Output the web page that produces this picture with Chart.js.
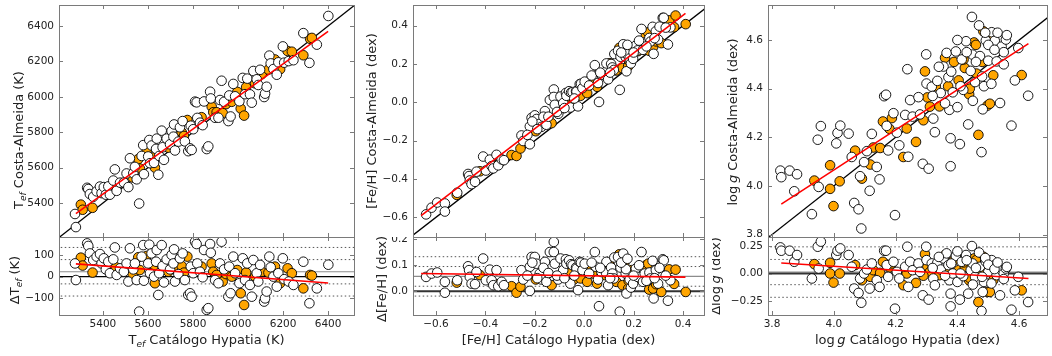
<!DOCTYPE html>
<html>
<head>
<meta charset="utf-8">
<script src="https://cdn.jsdelivr.net/npm/chart.js@4.4.1/dist/chart.umd.min.js"></script>
<style>
  body { margin: 0; background: #fff; width: 1052px; height: 356px; position: relative; overflow: hidden; }
  canvas { position: absolute; }
</style>
</head>
<body>
<script>
// ---- Teff: [Hypatia, Costa-Almeida - Hypatia] ----
var tefWhite = [[5276,62],[5280,-16],[5330,156],[5335,144],[5342,109],[5357,78],[5372,94],[5387,106],[5394,62],[5404,86],[5413,34],[5424,70],[5431,16],[5446,81],[5453,137],[5461,8],[5476,39],[5493,23],[5505,62],[5513,-23],[5520,133],[5535,34],[5542,62],[5550,-16],[5561,-164],[5572,94],[5579,148],[5582,-19],[5601,62],[5606,150],[5609,16],[5616,109],[5627,0],[5636,70],[5639,125],[5646,-86],[5650,16],[5661,148],[5665,50],[5671,-27],[5683,81],[5698,34],[5705,102],[5713,62],[5716,128],[5720,-23],[5735,12],[5742,86],[5754,109],[5764,-16],[5779,-86],[5787,-78],[5794,-94],[5790,47],[5801,16],[5809,164],[5816,153],[5819,62],[5831,23],[5843,-3],[5849,125],[5861,-156],[5868,-148],[5876,153],[5879,112],[5898,-16],[5913,-31],[5920,62],[5927,164],[5938,34],[5957,-94],[5961,47],[5967,-78],[5979,94],[5987,16],[6006,-31],[6021,86],[6031,-16],[6041,62],[6053,-39],[6061,-94],[6068,78],[6083,16],[6090,-23],[6098,55],[6116,-117],[6120,-102],[6127,-70],[6139,94],[6145,44],[6157,0],[6172,-47],[6179,16],[6199,86],[6205,-12],[6225,-23],[6246,-39],[6290,70],[6317,-125],[6350,-55],[6401,56]];
var tefOrange = [[5302,89],[5310,52],[5354,19],[5416,47],[5458,44],[5532,12],[5557,91],[5564,31],[5594,97],[5624,34],[5631,-31],[5690,23],[5727,31],[5750,50],[5760,19],[5775,94],[5838,47],[5883,62],[5890,23],[5905,8],[5932,-23],[5947,12],[5972,0],[5997,31],[6012,-78],[6027,-133],[6036,19],[6076,0],[6105,23],[6135,19],[6164,47],[6187,-31],[6220,39],[6239,16],[6290,-55],[6320,8],[6328,5]];
var tefFitX = [5280, 6400];
var tefFitD = [60, -30];
var tefMean = 23;
var tefLevels = [-91, -34, 80, 137];

// ---- [Fe/H] ----
var fehWhite = [[-0.64,0.055],[-0.618,0.068],[-0.595,0.072],[-0.564,0.036],[-0.564,-0.006],[-0.514,0.042],[-0.47,0.096],[-0.466,0.081],[-0.463,0.055],[-0.456,0.029],[-0.442,0.027],[-0.436,0.074],[-0.409,0.126],[-0.398,0.042],[-0.382,0.083],[-0.375,0.042],[-0.368,0.023],[-0.355,0.081],[-0.348,0.019],[-0.334,0.036],[-0.325,0.023],[-0.254,0.081],[-0.247,0.045],[-0.22,0.001],[-0.22,0.094],[-0.213,0.132],[-0.2,0.132],[-0.193,0.106],[-0.18,0.068],[-0.173,0.045],[-0.159,0.113],[-0.153,0.036],[-0.139,0.151],[-0.123,0.19],[-0.123,0.151],[-0.119,0.106],[-0.105,0.045],[-0.096,0.126],[-0.085,0.081],[-0.074,0.123],[-0.072,0.106],[-0.061,0.119],[-0.056,0.029],[-0.053,0.104],[-0.047,0.1],[-0.033,0.091],[-0.031,0.087],[-0.025,0.004],[-0.018,0.113],[-0.013,0.11],[-0.007,0.081],[0.002,0.106],[0.02,0.068],[0.043,0.151],[0.047,0.094],[0.056,0.045],[0.06,-0.058],[0.07,0.074],[0.088,0.072],[0.09,0.113],[0.097,0.023],[0.109,0.091],[0.114,0.068],[0.12,0.049],[0.122,0.13],[0.137,0.132],[0.144,-0.079],[0.147,0.091],[0.158,0.145],[0.168,0.068],[0.169,0.085],[0.171,-0.009],[0.184,0.045],[0.189,0.014],[0.198,0.029],[0.209,0.087],[0.216,0.055],[0.232,0.151],[0.238,0.036],[0.245,0.068],[0.264,0.072],[0.268,0.049],[0.277,0.117],[0.281,-0.028],[0.29,0.081],[0.299,0.029],[0.318,0.123],[0.322,0.119],[0.339,-0.037],[0.349,0.042],[-0.23,0.06],[-0.21,0.11],[-0.19,0.05],[-0.165,0.09],[-0.145,0.07],[-0.11,0.06],[-0.08,0.05],[-0.04,0.06],[0.03,0.11],[0.065,0.09],[0.105,0.05],[0.15,0.11],[0.175,0.125],[0.2,0.06],[0.222,0.1],[0.252,0.04],[0.285,0.05],[0.305,0.09],[0.33,0.06]];
var fehOrange = [[-0.516,0.033],[-0.422,0.062],[-0.355,0.027],[-0.294,0.019],[-0.274,-0.006],[-0.258,0.017],[-0.196,0.045],[-0.166,0.062],[-0.146,0.068],[-0.132,0.023],[-0.085,0.055],[-0.065,0.071],[-0.042,0.045],[-0.015,0.049],[0.012,0.036],[0.021,0.091],[0.029,0.083],[0.034,0.068],[0.052,0.029],[0.083,0.062],[0.104,0.1],[0.13,0.036],[0.142,0.142],[0.155,0.023],[0.163,0.11],[0.178,0.01],[0.18,0.04],[0.191,0.081],[0.218,0.049],[0.25,0.1],[0.259,0.106],[0.263,0.006],[0.279,0.01],[0.291,0.027],[0.312,-0.003],[0.344,0.084],[0.364,0.028],[0.37,0.083],[0.411,-0.003]];
var fehFitX = [-0.66, 0.41];
var fehFitD = [0.068, 0.054];
var fehMean = 0.057;
var fehLevels = [-0.019, 0.019, 0.095, 0.133];

// ---- log g ----
var loggWhite = [[3.827,0.236],[3.83,0.206],[3.857,0.206],[3.872,0.106],[3.881,0.167],[3.929,-0.045],[3.948,0.242],[3.958,0.288],[3.951,0.045],[4.008,0.167],[4.012,0.206],[4.021,0.227],[4.048,0.167],[4.058,0.061],[4.066,-0.136],[4.08,-0.176],[4.089,-0.264],[4.085,-0.045],[4.098,0.0],[4.107,0.036],[4.116,-0.136],[4.123,0.091],[4.139,-0.061],[4.148,-0.121],[4.163,0.206],[4.169,0.206],[4.171,0.076],[4.176,-0.03],[4.193,0.106],[4.198,-0.318],[4.204,0.015],[4.212,-0.045],[4.231,0.061],[4.238,0.242],[4.241,-0.121],[4.247,0.106],[4.255,0.03],[4.274,0.091],[4.279,0.015],[4.288,-0.197],[4.299,0.242],[4.3,0.121],[4.307,-0.236],[4.317,0.091],[4.322,-0.045],[4.327,-0.106],[4.335,0.097],[4.346,0.036],[4.355,0.136],[4.365,0.182],[4.371,0.076],[4.374,-0.061],[4.378,-0.182],[4.378,-0.297],[4.385,0.0],[4.395,0.158],[4.4,-0.076],[4.408,-0.236],[4.414,0.106],[4.419,-0.024],[4.428,0.167],[4.435,-0.182],[4.443,0.03],[4.447,0.248],[4.449,0.091],[4.457,-0.03],[4.473,0.061],[4.478,-0.339],[4.482,-0.167],[4.486,-0.076],[4.492,0.106],[4.5,0.015],[4.511,0.121],[4.521,0.076],[4.527,-0.015],[4.538,-0.197],[4.543,0.03],[4.55,0.0],[4.557,0.045],[4.586,-0.152],[4.575,-0.327],[4.597,-0.03],[4.629,-0.258],[4.32,0.05],[4.34,0.15],[4.36,-0.02],[4.38,0.09],[4.40,0.2],[4.41,0.0],[4.43,0.12],[4.45,-0.1],[4.46,0.05],[4.47,0.19],[4.48,-0.03],[4.49,0.14],[4.5,0.08],[4.51,-0.09],[4.52,0.04],[4.53,0.1],[4.55,-0.05],[4.56,0.06]];
var loggOrange = [[3.937,0.085],[3.988,0.097],[3.988,0.0],[3.999,-0.082],[4.019,0.0],[4.069,0.076],[4.091,-0.061],[4.118,-0.03],[4.128,0.03],[4.15,0.006],[4.159,0.106],[4.18,0.055],[4.188,0.091],[4.225,-0.106],[4.236,0.0],[4.266,-0.085],[4.295,0.176],[4.303,0.061],[4.311,0.015],[4.342,-0.015],[4.36,0.167],[4.389,0.121],[4.404,0.03],[4.424,0.061],[4.438,-0.061],[4.454,0.136],[4.462,0.0],[4.468,-0.258],[4.484,0.152],[4.497,-0.167],[4.505,-0.167],[4.516,-0.061],[4.608,-0.152],[4.33,0.08],[4.37,0.04],[4.42,0.1],[4.44,-0.04],[4.46,0.12],[4.48,0.03],[4.51,0.1],[4.29,-0.02]];
var loggFitX = [3.83, 4.63];
var loggFitD = [0.095, -0.045];
var loggMean = 0.013;
var loggLevels = [-0.215, -0.101, 0.127, 0.241];

// tick values
var tefTicks = [5400, 5600, 5800, 6000, 6200, 6400];
var tefResTicks = [-100, 0, 100];
var fehTicks = [-0.6, -0.4, -0.2, 0.0, 0.2, 0.4];
var fehResTicks = [0.0, 0.1, 0.2];
var loggTicks = [3.8, 4.0, 4.2, 4.4, 4.6];
var loggResTicks = [-0.25, 0.0, 0.25];

Chart.defaults.font.family = '"DejaVu Sans", sans-serif';
Chart.defaults.font.size = 10.5;
Chart.defaults.color = "#222";

function fmt(d) {
  return function (v) { return (v < -1e-9 ? "\u2212" : "") + Math.abs(v).toFixed(d); };
}

function richText(ctx, parts, x, y, rotate) {
  ctx.save();
  ctx.translate(x, y);
  if (rotate) ctx.rotate(-Math.PI / 2);
  var font = function (p) { return (p.it || p.sub ? "italic " : "") + (p.sub ? 9 : 13) + 'px "DejaVu Sans"'; };
  var w = 0;
  parts.forEach(function (p) { ctx.font = font(p); w += ctx.measureText(p.t).width; });
  var cx = -w / 2;
  ctx.fillStyle = "#222";
  ctx.textBaseline = "alphabetic";
  parts.forEach(function (p) {
    ctx.font = font(p);
    ctx.fillText(p.t, cx, p.sub ? 3 : 0);
    cx += ctx.measureText(p.t).width;
  });
  ctx.restore();
}

// frame, inward ticks and axis titles
var framePlugin = {
  id: "frame",
  afterDraw: function (chart, args, o) {
    var ctx = chart.ctx, a = chart.chartArea, sx = chart.scales.x, sy = chart.scales.y;
    ctx.save();
    ctx.strokeStyle = "#7a7a7a";
    ctx.lineWidth = 1;
    ctx.strokeRect(a.left + 0.5, a.top + 0.5, a.right - a.left, a.bottom - a.top);
    ctx.beginPath();
    o.xt.forEach(function (v) {
      var p = Math.round(sx.getPixelForValue(v)) + 0.5;
      ctx.moveTo(p, a.bottom); ctx.lineTo(p, a.bottom - 4);
      ctx.moveTo(p, a.top); ctx.lineTo(p, a.top + 4);
    });
    o.yt.forEach(function (v) {
      var p = Math.round(sy.getPixelForValue(v)) + 0.5;
      ctx.moveTo(a.left, p); ctx.lineTo(a.left + 4, p);
      ctx.moveTo(a.right, p); ctx.lineTo(a.right - 4, p);
    });
    ctx.stroke();
    ctx.restore();
    if (o.ytitle) richText(ctx, o.ytitle.parts, o.ytitle.x - o.ox, o.ytitle.y - o.oy, true);
    if (o.xtitle) richText(ctx, o.xtitle.parts, (a.left + a.right) / 2, o.xtitle.y - o.oy, false);
  }
};

function pts(list, top) {
  return list.map(function (p) { return { x: p[0], y: top ? p[0] + p[1] : p[1] }; });
}

function scatterSet(list, top, color, order) {
  return {
    data: pts(list, top), order: order, clip: 0,
    pointRadius: 4.8, pointHoverRadius: 4.8, pointBorderWidth: 0.9,
    pointBackgroundColor: color, pointBorderColor: "#000", showLine: false
  };
}

function lineSet(data, color, width, dash, order) {
  return {
    data: data, order: order, clip: 0, showLine: true, pointRadius: 0,
    borderColor: color, borderWidth: width, borderDash: dash || []
  };
}

function panel(box, o) {
  var c = document.createElement("canvas");
  c.width = box.w; c.height = box.h;
  c.style.left = box.x + "px"; c.style.top = box.y + "px";
  document.body.appendChild(c);
  new Chart(c, {
    type: "scatter",
    data: { datasets: o.datasets },
    options: {
      responsive: false, animation: false, events: [],
      layout: { autoPadding: false, padding: o.pad },
      plugins: {
        legend: { display: false }, tooltip: { enabled: false },
        frame: { xt: o.xt, yt: o.yt, ytitle: o.ytitle, xtitle: o.xtitle, ox: box.x, oy: box.y }
      },
      scales: {
        x: {
          type: "linear", min: o.xr[0], max: o.xr[1], display: o.showX,
          grid: { display: false, drawTicks: false }, border: { display: false },
          afterBuildTicks: function (s) { s.ticks = o.xt.map(function (v) { return { value: v }; }); },
          afterFit: function (s) { s.height = o.xh || 0; s.paddingLeft = 0; s.paddingRight = 0; s.paddingTop = 0; s.paddingBottom = 0; },
          ticks: { padding: 3, maxRotation: 0, callback: fmt(o.xd) }
        },
        y: {
          type: "linear", min: o.yr[0], max: o.yr[1],
          grid: { display: false, drawTicks: false }, border: { display: false },
          afterBuildTicks: function (s) { s.ticks = o.yt.map(function (v) { return { value: v }; }); },
          afterFit: function (s) { s.width = o.yw; s.paddingLeft = 0; s.paddingRight = 0; s.paddingTop = 0; s.paddingBottom = 0; },
          ticks: { padding: 5, callback: fmt(o.yd) }
        }
      }
    },
    plugins: [framePlugin]
  });
}

function column(cfg) {
  var lo = cfg.xr[0] - 10, hi = cfg.xr[1] + 10;
  var fitTop = [{ x: cfg.fitX[0], y: cfg.fitX[0] + cfg.fitD[0] }, { x: cfg.fitX[1], y: cfg.fitX[1] + cfg.fitD[1] }];
  var fitRes = [{ x: cfg.fitX[0], y: cfg.fitD[0] }, { x: cfg.fitX[1], y: cfg.fitD[1] }];
  panel({ x: cfg.x, y: 0, w: cfg.w, h: 247 }, {
    pad: { left: 0, right: cfg.right, top: 5, bottom: 10 },
    xr: cfg.xr, yr: cfg.yrTop, xt: cfg.ticks, yt: cfg.ticks, xd: cfg.xd, yd: cfg.xd, yw: cfg.yw, showX: false,
    ytitle: { parts: cfg.titleTop, x: cfg.tTopX, y: cfg.tTopY },
    datasets: [
      lineSet(fitTop, "#ff0000", 1.6, null, 0),
      scatterSet(cfg.white, true, "#ffffff", 1),
      scatterSet(cfg.orange, true, "#ffa500", 2),
      lineSet([{ x: lo, y: lo }, { x: hi, y: hi }], "#000", 1.3, null, 3)
    ]
  });
  var sets = [
    lineSet(fitRes, "#ff0000", 1.6, null, 0),
    scatterSet(cfg.white, false, "#ffffff", 1),
    scatterSet(cfg.orange, false, "#ffa500", 2),
    lineSet([{ x: lo, y: 0 }, { x: hi, y: 0 }], cfg.zeroColor, cfg.zeroWidth, null, 3),
    lineSet([{ x: lo, y: cfg.mean }, { x: hi, y: cfg.mean }], "#8c8c8c", 1.1, null, 4)
  ];
  cfg.levels.forEach(function (v) {
    sets.push(lineSet([{ x: lo, y: v }, { x: hi, y: v }], "#555", 1, [1.5, 2.5], 5));
  });
  panel({ x: cfg.x, y: 237, w: cfg.w, h: 119 }, {
    pad: { left: 0, right: cfg.right, top: 0, bottom: 0 },
    xr: cfg.xr, yr: cfg.yrRes, xt: cfg.ticks, yt: cfg.resTicks, xd: cfg.xd, yd: cfg.resD, yw: cfg.yw, showX: true, xh: 41,
    ytitle: { parts: cfg.titleRes, x: cfg.tResX, y: cfg.tResY },
    xtitle: { parts: cfg.titleX, y: 344 },
    datasets: sets
  });
}

column({
  x: 0, w: 358, right: 4, yw: 59,
  xr: [5205, 6515], yrTop: [5208, 6519], yrRes: [-180, 186],
  ticks: tefTicks, resTicks: tefResTicks, xd: 0, resD: 0,
  white: tefWhite, orange: tefOrange, fitX: tefFitX, fitD: tefFitD,
  mean: tefMean, levels: tefLevels, zeroColor: "#000", zeroWidth: 1.3,
  titleTop: [{ t: "T" }, { t: "ef", sub: 1 }, { t: " Costa-Almeida (K)" }], tTopX: 22.5, tTopY: 140,
  titleRes: [{ t: "\u0394T" }, { t: "ef", sub: 1 }, { t: " (K)" }], tResX: 19, tResY: 280,
  titleX: [{ t: "T" }, { t: "ef", sub: 1 }, { t: " Catálogo Hypatia (K)" }]
});

column({
  x: 358, w: 354, right: 8, yw: 55,
  xr: [-0.693, 0.485], yrTop: [-0.703, 0.508], yrRes: [-0.092, 0.209],
  ticks: fehTicks, resTicks: fehResTicks, xd: 1, resD: 1,
  white: fehWhite, orange: fehOrange, fitX: fehFitX, fitD: fehFitD,
  mean: fehMean, levels: fehLevels, zeroColor: "#333", zeroWidth: 2,
  titleTop: [{ t: "[Fe/H] Costa-Almeida (dex)" }], tTopX: 375.5, tTopY: 121,
  titleRes: [{ t: "\u0394[Fe/H] (dex)" }], tResX: 385.5, tResY: 279,
  titleX: [{ t: "[Fe/H] Catálogo Hypatia (dex)" }]
});

column({
  x: 712, w: 340, right: 5, yw: 56,
  xr: [3.787, 4.69], yrTop: [3.79, 4.744], yrRes: [-0.375, 0.33],
  ticks: loggTicks, resTicks: loggResTicks, xd: 1, resD: 2,
  white: loggWhite, orange: loggOrange, fitX: loggFitX, fitD: loggFitD,
  mean: loggMean, levels: loggLevels, zeroColor: "#333", zeroWidth: 2,
  titleTop: [{ t: "log\u2009" }, { t: "g", it: 1 }, { t: " Costa-Almeida (dex)" }], tTopX: 737, tTopY: 122,
  titleRes: [{ t: "\u0394log\u2009" }, { t: "g", it: 1 }, { t: " (dex)" }], tResX: 720, tResY: 276,
  titleX: [{ t: "log\u2009" }, { t: "g", it: 1 }, { t: " Catálogo Hypatia (dex)" }]
});
</script>
</body>
</html>
